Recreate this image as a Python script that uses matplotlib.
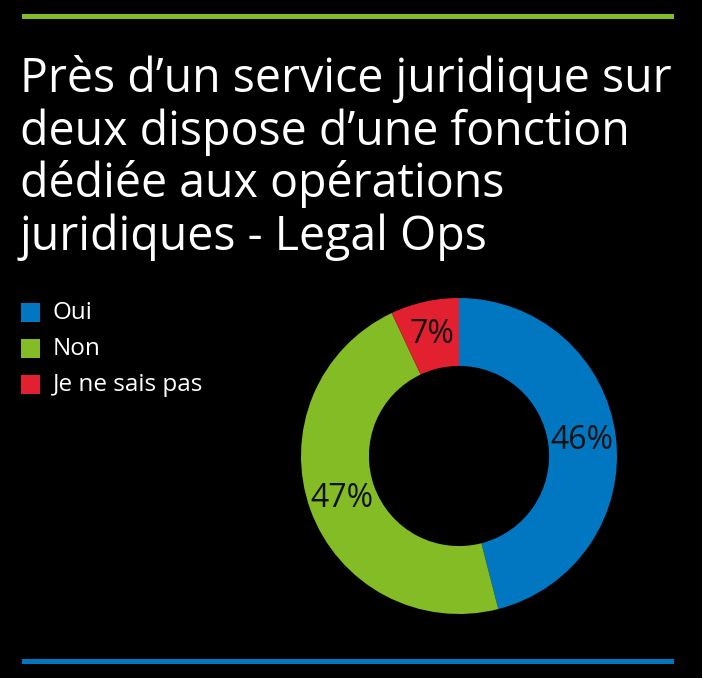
import matplotlib
matplotlib.use("Agg")
import matplotlib.pyplot as plt
from matplotlib.patches import Rectangle

# données
categories = ["Oui", "Non", "Je ne sais pas"]
valeurs = [46, 47, 7]
couleurs = ["#0077C0", "#84BC25", "#E3202F"]
titre = [
    "Près d\u2019un service juridique sur",
    "deux dispose d\u2019une fonction",
    "dédiée aux opérations",
    "juridiques - Legal Ops",
]

plt.rcParams["font.family"] = ["Open Sans", "DejaVu Sans"]

W, H = 702, 678
fig = plt.figure(figsize=(W / 100, H / 100), dpi=100, facecolor="black")

# lignes décoratives haut / bas
fig.add_artist(Rectangle((22 / W, 1 - 19 / H), 652 / W, 5 / H,
                         transform=fig.transFigure, color="#84BC25", lw=0))
fig.add_artist(Rectangle((22 / W, 1 - 664 / H), 652 / W, 5 / H,
                         transform=fig.transFigure, color="#0077C0", lw=0))

# titre
for i, ligne in enumerate(titre):
    y = 92 + i * 52.7
    fig.text(20 / W, 1 - y / H, ligne, color="white", fontsize=33.5,
             va="baseline", ha="left")

# légende
for i, (cat, col) in enumerate(zip(categories, couleurs)):
    yc = 313 + i * 36
    fig.add_artist(Rectangle((21 / W, 1 - (yc + 9) / H), 19 / W, 19 / H,
                             transform=fig.transFigure, color=col, lw=0))
    fig.text(53 / W, 1 - yc / H, cat, color="white", fontsize=17.5,
             va="center", ha="left")

# anneau
ax = fig.add_axes([301 / W, 64 / H, 316 / W, 316 / H])
ax.set_facecolor("black")
wedges, textes, pcts = ax.pie(
    valeurs, colors=couleurs, startangle=90, counterclock=False,
    radius=1, wedgeprops=dict(width=0.43, linewidth=0),
    autopct=lambda p: f"{p:.0f}%", pctdistance=0.785,
    textprops=dict(color="#111111", fontsize=23),
)
ax.set_xlim(-1, 1)
ax.set_ylim(-1, 1)
ax.set_aspect("equal")
ax.axis("off")

fig.savefig("out.png", dpi=100, facecolor="black")
